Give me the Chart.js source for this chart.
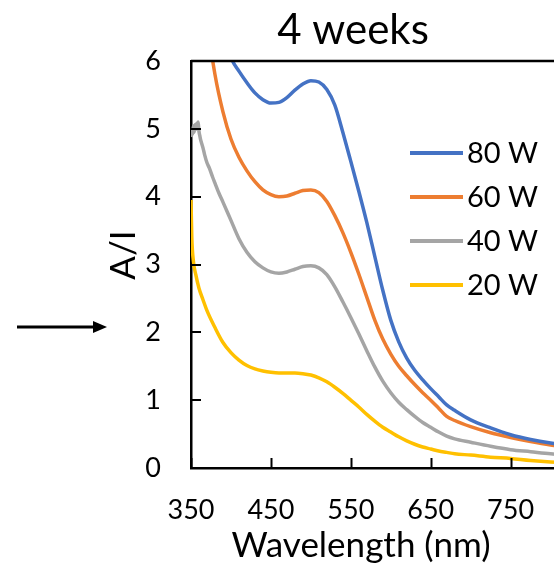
<!DOCTYPE html>
<html>
<head>
<meta charset="utf-8">
<script src="https://cdn.jsdelivr.net/npm/chart.js@4/dist/chart.umd.min.js"></script>
<style>
  html, body { margin: 0; padding: 0; overflow: hidden; background: #fff; width: 554px; height: 576px; }
  #wrap { width: 640px; height: 576px; }
</style>
</head>
<body>
<div id="wrap"><canvas id="c" width="640" height="576"></canvas></div>
<script>
// Absorbance spectra after 4 weeks, by lamp power
const seriesNames = ['80 W', '60 W', '40 W', '20 W'];
const seriesColors = ['#4472C4', '#ED7D31', '#A5A5A5', '#FFC000'];

const wl80 = [350, 370, 380, 390, 400, 410, 420, 430, 440, 450, 460, 470, 480, 490, 500, 510, 520, 530, 540, 550, 560, 570, 580, 590, 600, 610, 620, 630, 640, 650, 660, 670, 680, 700, 725, 750, 775, 800, 850];
const a80 = [8.5, 7.4, 6.9, 6.45, 6.05, 5.85, 5.68, 5.53, 5.43, 5.38, 5.39, 5.46, 5.57, 5.66, 5.71, 5.69, 5.58, 5.35, 4.95, 4.52, 4.08, 3.62, 3.12, 2.62, 2.18, 1.86, 1.62, 1.44, 1.30, 1.17, 1.05, 0.93, 0.85, 0.71, 0.59, 0.49, 0.42, 0.37, 0.30];

const wl60 = [350, 360, 370, 380, 390, 400, 410, 420, 430, 440, 450, 460, 470, 480, 490, 500, 510, 520, 530, 540, 550, 560, 570, 580, 590, 600, 610, 620, 630, 640, 650, 660, 670, 680, 700, 725, 750, 775, 800, 850];
const a60 = [9.0, 7.6, 6.6, 5.8, 5.25, 4.85, 4.58, 4.38, 4.22, 4.10, 4.03, 4.00, 4.01, 4.05, 4.09, 4.10, 4.06, 3.93, 3.72, 3.47, 3.18, 2.86, 2.52, 2.18, 1.90, 1.68, 1.50, 1.36, 1.23, 1.11, 1.00, 0.88, 0.76, 0.70, 0.61, 0.52, 0.45, 0.39, 0.34, 0.27];

const wl40 = [350, 351, 352, 353, 354, 355, 356, 357, 358, 359, 360, 361, 362, 363, 365, 367, 370, 373, 377, 380, 385, 390, 400, 410, 420, 430, 440, 450, 460, 470, 480, 490, 500, 510, 520, 530, 540, 550, 560, 570, 580, 590, 600, 610, 620, 630, 640, 650, 660, 670, 680, 700, 725, 750, 775, 800, 850];
const a40 = [4.88, 4.98, 4.92, 5.04, 4.95, 5.06, 4.99, 5.08, 5.02, 5.10, 4.96, 4.90, 4.84, 4.80, 4.72, 4.62, 4.50, 4.42, 4.29, 4.20, 4.05, 3.92, 3.65, 3.38, 3.18, 3.04, 2.95, 2.89, 2.87, 2.89, 2.93, 2.97, 2.98, 2.95, 2.85, 2.67, 2.45, 2.22, 1.98, 1.73, 1.49, 1.28, 1.11, 0.97, 0.86, 0.76, 0.67, 0.60, 0.53, 0.47, 0.43, 0.38, 0.32, 0.27, 0.24, 0.21, 0.17];

const wl20 = [350, 351, 353, 356, 360, 365, 370, 380, 390, 400, 410, 420, 430, 440, 450, 460, 470, 480, 490, 500, 510, 520, 530, 540, 550, 560, 570, 580, 590, 600, 610, 620, 630, 640, 650, 660, 670, 680, 700, 725, 750, 775, 800, 850];
const a20 = [3.95, 3.40, 3.05, 2.85, 2.65, 2.48, 2.32, 2.07, 1.85, 1.70, 1.59, 1.51, 1.46, 1.43, 1.41, 1.40, 1.40, 1.40, 1.39, 1.37, 1.33, 1.27, 1.19, 1.10, 1.00, 0.90, 0.79, 0.69, 0.60, 0.53, 0.46, 0.40, 0.35, 0.31, 0.28, 0.25, 0.23, 0.21, 0.19, 0.16, 0.14, 0.11, 0.09, 0.07];

const xTickValues = [350, 450, 550, 650, 750, 850];
const yTickValues = [0, 1, 2, 3, 4, 5, 6];

const chartTitle = '4 weeks';
const xTitle = 'Wavelength (nm)';
const yTitle = 'A/I';

const FONT = 'Lato, "Open Sans", sans-serif';

const wavelengths = [wl80, wl60, wl40, wl20];
const absorbances = [a80, a60, a40, a20];

const datasets = seriesNames.map((name, i) => ({
  label: name,
  data: wavelengths[i].map((w, j) => ({ x: w, y: absorbances[i][j] })),
  borderColor: seriesColors[i],
  backgroundColor: seriesColors[i],
  borderWidth: 3.5,
  pointRadius: 0,
  fill: false,
  cubicInterpolationMode: 'monotone'
}));

// Frame, inward tick marks, titles, legend and the pointer arrow
const decor = {
  id: 'decor',
  afterDraw(chart) {
    const { ctx, chartArea: a, scales: { x, y } } = chart;
    ctx.save();
    ctx.strokeStyle = '#000';
    ctx.fillStyle = '#000';

    ctx.lineWidth = 2;
    x.ticks.forEach(t => {
      const px = Math.round(x.getPixelForValue(t.value)) + 0.5;
      ctx.beginPath(); ctx.moveTo(px, a.bottom); ctx.lineTo(px, a.bottom - 10); ctx.stroke();
    });
    y.ticks.forEach(t => {
      const py = Math.round(y.getPixelForValue(t.value));
      ctx.beginPath(); ctx.moveTo(a.left, py); ctx.lineTo(a.left + 10, py); ctx.stroke();
    });

    ctx.lineWidth = 2.5;
    ctx.beginPath(); ctx.moveTo(a.left, a.top); ctx.lineTo(a.right, a.top); ctx.stroke();

    ctx.textAlign = 'center';
    ctx.textBaseline = 'alphabetic';
    ctx.font = '42px ' + FONT;
    ctx.fillText(chartTitle, 353, 44);

    ctx.font = '35px ' + FONT;
    ctx.fillText(xTitle, 361, 557);

    ctx.save();
    ctx.font = '35px ' + FONT;
    ctx.translate(135, 255);
    ctx.rotate(-Math.PI / 2);
    ctx.fillText(yTitle, 0, 0);
    ctx.restore();

    ctx.font = '29px ' + FONT;
    ctx.textAlign = 'left';
    ctx.textBaseline = 'middle';
    chart.data.datasets.forEach((ds, i) => {
      const ly = 153 + i * 44;
      ctx.strokeStyle = ds.borderColor;
      ctx.lineWidth = 4;
      ctx.beginPath(); ctx.moveTo(410, ly); ctx.lineTo(463, ly); ctx.stroke();
      ctx.fillStyle = '#000';
      ctx.fillText(ds.label, 467, ly + 1);
    });

    ctx.strokeStyle = '#000';
    ctx.fillStyle = '#000';
    ctx.lineWidth = 3;
    ctx.beginPath(); ctx.moveTo(17, 327); ctx.lineTo(96, 327); ctx.stroke();
    ctx.beginPath(); ctx.moveTo(107, 327); ctx.lineTo(93, 321); ctx.lineTo(93, 333); ctx.closePath(); ctx.fill();

    ctx.restore();
  }
};

new Chart(document.getElementById('c'), {
  type: 'line',
  data: { datasets },
  plugins: [decor],
  options: {
    responsive: false,
    animation: false,
    devicePixelRatio: 1,
    layout: { padding: { left: 0, top: 61, right: 41.5, bottom: 0 } },
    plugins: { legend: { display: false }, title: { display: false }, tooltip: { enabled: false } },
    scales: {
      x: {
        type: 'linear',
        min: xTickValues[0],
        max: xTickValues[xTickValues.length - 1],
        afterBuildTicks: s => { s.ticks = xTickValues.map(v => ({ value: v })); },
        afterFit: s => { s.height = 108; },
        grid: { display: true, drawOnChartArea: false, drawTicks: false },
        border: { display: true, color: '#000', width: 2.5 },
        ticks: { color: '#000', font: { family: FONT, size: 27 }, padding: 26, maxRotation: 0, autoSkip: false }
      },
      y: {
        type: 'linear',
        min: yTickValues[0],
        max: yTickValues[yTickValues.length - 1],
        afterBuildTicks: s => { s.ticks = yTickValues.map(v => ({ value: v })); },
        afterFit: s => { s.width = 191; },
        grid: { display: true, drawOnChartArea: false, drawTicks: false },
        border: { display: true, color: '#000', width: 2.5 },
        ticks: { color: '#000', font: { family: FONT, size: 27 }, padding: 30 }
      }
    }
  }
});
</script>
</body>
</html>
